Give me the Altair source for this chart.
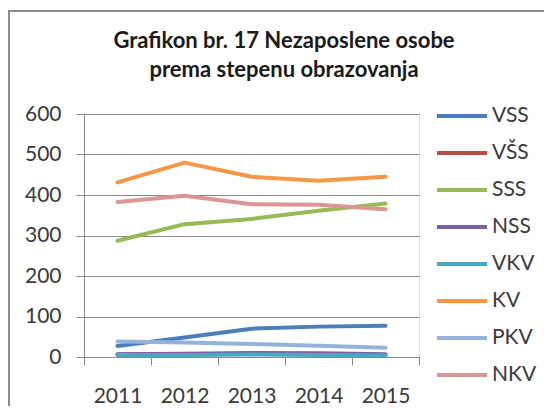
import altair as alt
import pandas as pd

years = ["2011", "2012", "2013", "2014", "2015"]
series = ["VSS", "VŠS", "SSS", "NSS", "VKV", "KV", "PKV", "NKV"]
colors = ["#4A7EBB", "#BE4B48", "#98B954", "#7D60A0", "#46AAC5", "#F79646", "#94B2DA", "#D99694"]
VSS = [27, 48, 70, 75, 77]
VSS2 = [6, 6, 8, 7, 5]
SSS = [287, 328, 341, 361, 379]
NSS = [7, 8, 10, 9, 7]
VKV = [5, 5, 6, 5, 4]
KV = [431, 480, 445, 435, 445]
PKV = [38, 36, 32, 28, 23]
NKV = [383, 398, 377, 376, 365]
values = [VSS, VSS2, SSS, NSS, VKV, KV, PKV, NKV]
title_lines = ["Grafikon br. 17 Nezaposlene osobe", "prema stepenu obrazovanja"]

rows = []
for s, vals in zip(series, values):
    for y, v in zip(years, vals):
        rows.append({"Godina": y, "Serija": s, "Vrednost": v})
df = pd.DataFrame(rows)

font = "Lato"
txt = "#3a3a3a"

lines = alt.Chart(df).mark_line(strokeWidth=4, strokeCap="round", strokeJoin="round").encode(
    x=alt.X("Godina:O", sort=years,
            scale=alt.Scale(paddingInner=0, paddingOuter=0),
            axis=alt.Axis(title=None, labelAngle=0, tickBand="extent", tickSize=8,
                          labelPadding=20, labelFontSize=21, labelColor=txt, labelFont=font,
                          domainColor="#888888", tickColor="#888888", grid=False)),
    y=alt.Y("Vrednost:Q", scale=alt.Scale(domain=[0, 600]),
            axis=alt.Axis(title=None, values=[0, 100, 200, 300, 400, 500, 600], tickSize=8,
                          labelPadding=15, labelFontSize=21, labelColor=txt, labelFont=font,
                          domainColor="#888888", tickColor="#888888", gridColor="#888888")),
    color=alt.Color("Serija:N", sort=series,
                    scale=alt.Scale(domain=series, range=colors),
                    legend=alt.Legend(title=None, orient="none", legendX=351, legendY=-25,
                                      symbolType="stroke", symbolSize=2500, symbolStrokeWidth=4,
                                      labelFontSize=21, labelColor=txt, labelFont=font,
                                      labelOffset=3, rowPadding=-13.8)),
    order=alt.Order("Godina:O"),
)

border = alt.Chart().mark_rect(fill=None, stroke="#8c8c8c", strokeWidth=2).encode(
    x=alt.value(-75), x2=alt.value(700), y=alt.value(-103), y2=alt.value(600))

title = alt.Chart().mark_text(font=font, fontSize=22, fontWeight="bold", color="#1a1a1a",
                              align="center", baseline="alphabetic", lineHeight=29).encode(
    x=alt.value(200), y=alt.value(-66), text=alt.value(title_lines))

chart = alt.layer(border, title, lines).properties(
    width=335, height=243,
    autosize=alt.AutoSizeParams(type="none"),
    padding={"left": 76, "top": 106, "right": 125, "bottom": 49},
).configure_view(stroke=None).configure(background="white")

chart.save("out.html", embed_options={"renderer": "svg", "actions": False})
